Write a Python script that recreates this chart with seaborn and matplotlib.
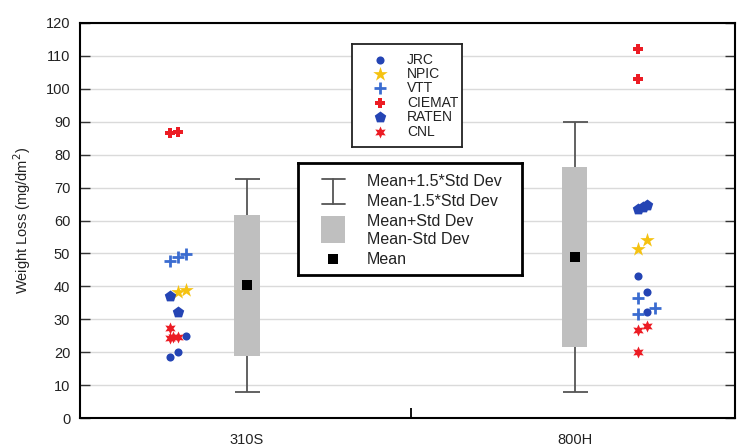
import numpy as np
import pandas as pd
import matplotlib
matplotlib.use("Agg")
import matplotlib.pyplot as plt
from matplotlib.patches import Rectangle
import seaborn as sns

# ---- data -------------------------------------------------------------
grades = ["310S", "800H"]
mean_loss = [40.3, 49.0]
std_loss = [21.5, 27.3]

labs = ["JRC", "NPIC", "VTT", "CIEMAT", "RATEN", "CNL"]

# individual results per laboratory: (values, jitter slot)
s310_jrc = [24.9, 20.1, 18.6]
s310_jrc_slot = [2, 1, 0]
s310_npic = [38.3, 39.0]
s310_npic_slot = [1, 2]
s310_vtt = [47.8, 48.8, 49.7]
s310_vtt_slot = [0, 1, 2]
s310_ciemat = [86.5, 87.0]
s310_ciemat_slot = [0, 1]
s310_raten = [37.0, 32.3]
s310_raten_slot = [0, 1]
s310_cnl = [27.2, 24.3, 24.6, 24.5]
s310_cnl_slot = [0, 0, 1, 0.4]

h800_jrc = [43.0, 38.2, 32.2]
h800_jrc_slot = [0, 1, 1]
h800_npic = [51.2, 54.2]
h800_npic_slot = [0, 1]
h800_vtt = [36.6, 31.7, 33.3]
h800_vtt_slot = [0, 0, 2]
h800_ciemat = [112.0, 103.0]
h800_ciemat_slot = [0, 0]
h800_raten = [63.6, 64.0, 64.6]
h800_raten_slot = [0, 0.6, 1.1]
h800_cnl = [26.8, 27.8, 19.9]
h800_cnl_slot = [0, 1, 0]

y_ticks = list(range(0, 121, 10))

# ---- assemble long table ----------------------------------------------
centers = {"310S": 1.0, "800H": 3.0}
slot_base = {"310S": -0.47, "800H": 0.39}
slot_step = 0.05

series = {
    ("310S", "JRC"): (s310_jrc, s310_jrc_slot),
    ("310S", "NPIC"): (s310_npic, s310_npic_slot),
    ("310S", "VTT"): (s310_vtt, s310_vtt_slot),
    ("310S", "CIEMAT"): (s310_ciemat, s310_ciemat_slot),
    ("310S", "RATEN"): (s310_raten, s310_raten_slot),
    ("310S", "CNL"): (s310_cnl, s310_cnl_slot),
    ("800H", "JRC"): (h800_jrc, h800_jrc_slot),
    ("800H", "NPIC"): (h800_npic, h800_npic_slot),
    ("800H", "VTT"): (h800_vtt, h800_vtt_slot),
    ("800H", "CIEMAT"): (h800_ciemat, h800_ciemat_slot),
    ("800H", "RATEN"): (h800_raten, h800_raten_slot),
    ("800H", "CNL"): (h800_cnl, h800_cnl_slot),
}
rows = []
for (g, lab), (vals, slots) in series.items():
    for v, s in zip(vals, slots):
        rows.append({"grade": g, "lab": lab, "loss": v,
                     "x": centers[g] + slot_base[g] + s * slot_step})
points = pd.DataFrame(rows)

stats = pd.DataFrame({"grade": grades, "mean": mean_loss, "std": std_loss})
stats["x"] = stats["grade"].map(centers)

# ---- styles ------------------------------------------------------------
BLUE = "#2444b4"
LBLUE = "#3b6cd0"
GOLD = "#f5c211"
RED = "#ec1c24"
style = {
    "JRC": dict(color=BLUE, marker="o", s=34, lw=0),
    "NPIC": dict(color=GOLD, marker="*", s=120, lw=0),
    "VTT": dict(color=LBLUE, marker="+", s=80, lw=2.0),
    "CIEMAT": dict(color=RED, marker="P", s=48, lw=0),
    "RATEN": dict(color=BLUE, marker="p", s=75, lw=0),
    "CNL": dict(color=RED, marker=(6, 1, 0), s=75, lw=0),
}

# ---- figure ------------------------------------------------------------
sns.set_theme(style="white")
plt.rcParams["font.family"] = ["Liberation Sans", "DejaVu Sans"]

fig = plt.figure(figsize=(7.39, 4.46), dpi=100)
ax = fig.add_axes([80 / 739, 1 - 418 / 446, 655 / 739, 395 / 446])

ax.set_xlim(-0.02, 3.98)
ax.set_ylim(0, 120)
ax.set_yticks(y_ticks)
ax.yaxis.grid(True, color="#dadada", lw=1.0)
ax.xaxis.grid(False)
ax.set_axisbelow(True)

# whiskers at mean +/- 1.5 std
ax.errorbar(stats["x"], stats["mean"], yerr=1.5 * stats["std"], fmt="none",
            ecolor="#555555", elinewidth=1.3, capsize=9, capthick=1.3, zorder=2)
# boxes at mean +/- std
ax.bar(stats["x"], 2 * stats["std"], bottom=stats["mean"] - stats["std"],
       width=0.155, color="#bfbfbf", edgecolor="none", zorder=3)
# mean markers
sns.scatterplot(data=stats, x="x", y="mean", marker="s", s=60, color="black",
                linewidth=0, zorder=4, legend=False, ax=ax)

# laboratory results
for lab in labs:
    st = style[lab]
    sub = points[points["lab"] == lab]
    sns.scatterplot(data=sub, x="x", y="loss", color=st["color"],
                    marker=st["marker"], s=st["s"], linewidth=st["lw"],
                    zorder=5, legend=False, ax=ax)

# axes cosmetics
for sp in ax.spines.values():
    sp.set_color("black")
    sp.set_linewidth(1.5)
ax.set_xticks([centers[g] for g in grades])
ax.set_xticklabels(grades, fontsize=10.5, color="#222222")
ax.set_xticks([2.0], minor=True)
ax.tick_params(axis="x", which="major", length=0, pad=11)
ax.tick_params(axis="x", which="minor", direction="in", length=7, width=1.3,
               color="black", bottom=True)
ax.tick_params(axis="y", direction="in", length=7, width=1.0, left=True,
               right=True, labelsize=10.5, labelcolor="#222222", pad=7,
               color="#333333")
ax.set_xlabel("")
ax.set_ylabel("Weight Loss (mg/dm$^2$)", fontsize=10.5, color="#222222",
              labelpad=9)

# ---- laboratory key ----------------------------------------------------
key = fig.add_axes([352 / 739, 1 - 147 / 446, 110 / 739, 103 / 446], zorder=6)
key.set_xlim(0, 110)
key.set_ylim(103, 0)
key.set_xticks([])
key.set_yticks([])
key.set_facecolor("white")
for sp in key.spines.values():
    sp.set_color("#222222")
    sp.set_linewidth(1.3)
key_rows = [16, 30, 44, 59, 73, 88]
for lab, yy in zip(labs, key_rows):
    st = style[lab]
    key.scatter([28], [yy], color=st["color"], marker=st["marker"],
                s=st["s"], linewidths=st["lw"])
    key.text(55, yy, lab, fontsize=10, va="center", ha="left", color="#222222")

# ---- statistics key ----------------------------------------------------
sk = fig.add_axes([298 / 739, 1 - 275 / 446, 224 / 739, 112 / 446], zorder=6)
sk.set_xlim(0, 224)
sk.set_ylim(112, 0)
sk.set_xticks([])
sk.set_yticks([])
sk.set_facecolor("white")
for sp in sk.spines.values():
    sp.set_color("black")
    sp.set_linewidth(2.0)
sk.plot([35, 35], [16, 41], color="#555555", lw=1.3)
sk.plot([24, 47], [16, 16], color="#555555", lw=1.3)
sk.plot([24, 47], [41, 41], color="#555555", lw=1.3)
sk.add_patch(Rectangle((23, 53), 24, 27, color="#bfbfbf", lw=0))
sk.scatter([35], [96], marker="s", s=60, color="black", linewidths=0)
stat_labels = ["Mean+1.5*Std Dev", "Mean-1.5*Std Dev", "Mean+Std Dev",
               "Mean-Std Dev", "Mean"]
for txt, yy in zip(stat_labels, [19, 39, 58, 77, 96]):
    sk.text(69, yy, txt, fontsize=11.5, va="center", ha="left", color="#222222")

fig.savefig("out.png", dpi=100)
